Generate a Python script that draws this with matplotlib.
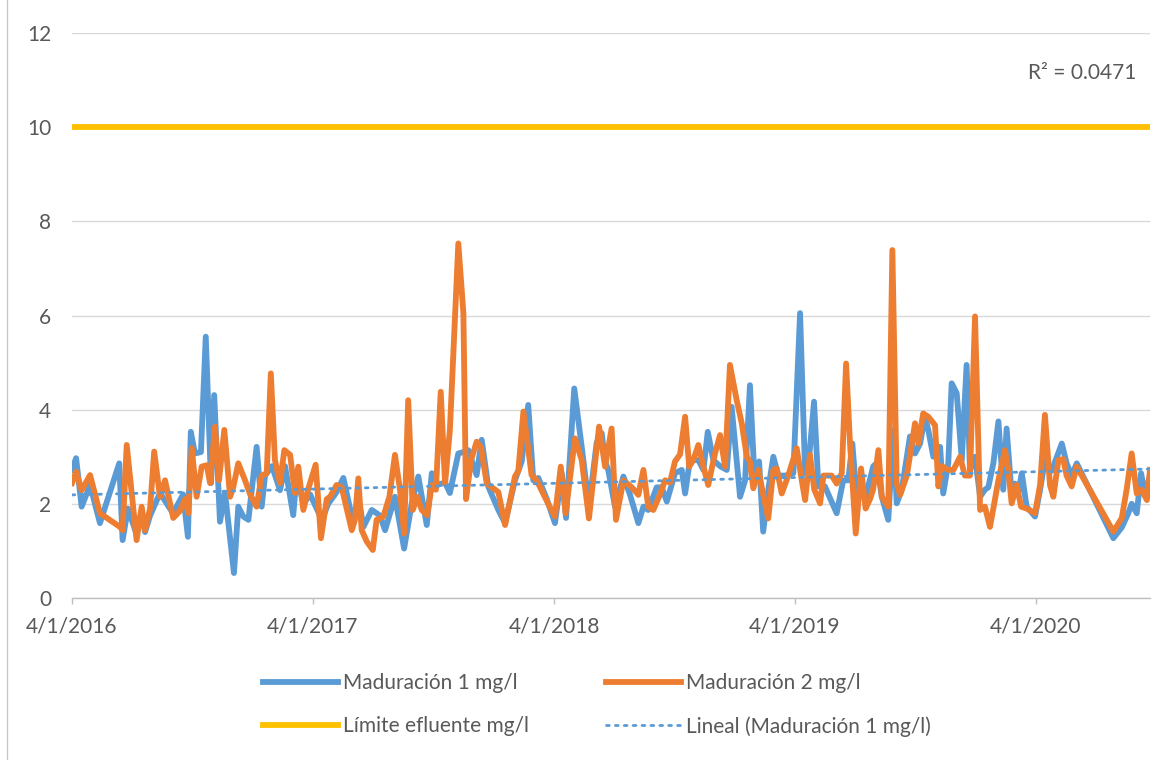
import numpy as np
import matplotlib
matplotlib.use("Agg")
import matplotlib.pyplot as plt
from matplotlib.patches import Rectangle

# ---- data (x = years since 4/1/2016) ----
blue_t = [0.000, 0.017, 0.040, 0.075, 0.116, 0.196, 0.210, 0.232, 0.268, 0.289, 0.303, 0.324,
          0.365, 0.419, 0.461, 0.481, 0.493, 0.510, 0.535, 0.555, 0.577, 0.590, 0.614, 0.635,
          0.672, 0.690, 0.711, 0.732, 0.766, 0.787, 0.801, 0.830, 0.863, 0.884, 0.918, 0.932,
          0.960, 0.988, 1.037, 1.063, 1.098, 1.126, 1.167, 1.188, 1.209, 1.244, 1.278, 1.299,
          1.340, 1.378, 1.410, 1.437, 1.472, 1.493, 1.513, 1.548, 1.568, 1.603, 1.624, 1.644,
          1.679, 1.700, 1.727, 1.769, 1.797, 1.838, 1.866, 1.893, 1.914, 1.935, 1.970, 2.004,
          2.032, 2.050, 2.084, 2.115, 2.145, 2.177, 2.198, 2.212, 2.225, 2.253, 2.288, 2.315,
          2.350, 2.371, 2.391, 2.426, 2.447, 2.468, 2.502, 2.530, 2.544, 2.564, 2.599, 2.620,
          2.638, 2.661, 2.689, 2.717, 2.737, 2.751, 2.772, 2.793, 2.813, 2.831, 2.851, 2.868,
          2.889, 2.910, 2.931, 2.959, 2.993, 3.021, 3.042, 3.058, 3.079, 3.097, 3.124, 3.173,
          3.200, 3.221, 3.238, 3.253, 3.270, 3.290, 3.325, 3.339, 3.360, 3.387, 3.408, 3.422,
          3.443, 3.477, 3.498, 3.519, 3.539, 3.553, 3.574, 3.602, 3.615, 3.636, 3.650, 3.671,
          3.692, 3.712, 3.726, 3.747, 3.768, 3.788, 3.802, 3.823, 3.844, 3.864, 3.878, 3.896,
          3.913, 3.925, 3.941, 3.961, 3.996, 4.017, 4.037, 4.065, 4.107, 4.127, 4.148, 4.169,
          4.321, 4.356, 4.383, 4.397, 4.418, 4.436, 4.452, 4.473]
blue_v = [2.72, 2.97, 1.94, 2.40, 1.59, 2.86, 1.23, 1.90, 1.35, 1.85, 1.40, 1.75,
          2.23, 1.80, 2.20, 1.30, 3.53, 3.07, 3.10, 5.55, 2.44, 4.31, 1.62, 2.23,
          0.53, 1.94, 1.73, 1.66, 3.21, 1.94, 2.60, 2.80, 2.29, 2.80, 1.76, 2.60,
          2.00, 2.20, 1.66, 2.00, 2.25, 2.55, 1.59, 2.15, 1.51, 1.87, 1.75, 1.44,
          2.15, 1.05, 2.02, 2.58, 1.55, 2.65, 2.40, 2.45, 2.23, 3.07, 3.10, 3.14,
          2.61, 3.36, 2.37, 1.87, 1.59, 2.50, 2.90, 4.10, 2.50, 2.55, 2.10, 1.59,
          2.65, 1.70, 4.45, 3.21, 1.94, 3.30, 3.50, 2.90, 2.72, 1.94, 2.58, 2.20,
          1.59, 1.94, 1.87, 2.35, 2.35, 2.05, 2.65, 2.72, 2.22, 2.93, 2.93, 2.72,
          3.53, 2.93, 2.80, 2.72, 4.06, 3.30, 2.15, 2.50, 4.52, 2.65, 2.90, 1.41,
          2.30, 3.00, 2.60, 2.60, 2.65, 6.05, 2.65, 2.95, 4.17, 2.37, 2.37, 1.80,
          2.50, 2.50, 3.28, 2.30, 2.50, 2.10, 2.80, 2.86, 2.15, 1.66, 3.57, 2.01,
          2.30, 3.43, 3.07, 3.28, 3.85, 3.57, 3.00, 3.21, 2.22, 2.86, 4.56, 4.35,
          2.93, 4.95, 2.72, 3.00, 2.15, 2.30, 2.35, 2.86, 3.75, 2.30, 3.60, 2.40,
          2.43, 2.20, 2.65, 1.94, 1.73, 2.30, 2.93, 2.70, 3.28, 2.86, 2.60, 2.86,
          1.27, 1.50, 1.80, 2.00, 1.80, 2.65, 2.20, 2.60]

orange_t = [0.000, 0.017, 0.040, 0.075, 0.116, 0.199, 0.210, 0.227, 0.268, 0.289, 0.303, 0.324,
            0.341, 0.365, 0.386, 0.420, 0.448, 0.469, 0.483, 0.497, 0.517, 0.538, 0.559, 0.573,
            0.593, 0.610, 0.632, 0.656, 0.669, 0.690, 0.718, 0.739, 0.766, 0.787, 0.808, 0.825,
            0.842, 0.863, 0.881, 0.905, 0.925, 0.939, 0.960, 0.981, 1.011, 1.033, 1.057, 1.071,
            1.098, 1.119, 1.161, 1.174, 1.188, 1.202, 1.223, 1.248, 1.264, 1.292, 1.317, 1.340,
            1.361, 1.378, 1.395, 1.414, 1.433, 1.451, 1.474, 1.493, 1.510, 1.530, 1.548, 1.568,
            1.603, 1.624, 1.635, 1.656, 1.679, 1.697, 1.721, 1.769, 1.797, 1.838, 1.852, 1.873,
            1.907, 1.928, 1.976, 2.004, 2.028, 2.048, 2.087, 2.115, 2.145, 2.187, 2.212, 2.239,
            2.257, 2.288, 2.323, 2.350, 2.371, 2.391, 2.412, 2.440, 2.461, 2.481, 2.502, 2.523,
            2.544, 2.561, 2.578, 2.599, 2.620, 2.640, 2.668, 2.689, 2.710, 2.730, 2.758, 2.779,
            2.800, 2.813, 2.827, 2.848, 2.868, 2.889, 2.910, 2.924, 2.945, 2.972, 3.007, 3.028,
            3.042, 3.062, 3.080, 3.104, 3.118, 3.152, 3.173, 3.194, 3.212, 3.228, 3.252, 3.274,
            3.293, 3.311, 3.324, 3.346, 3.360, 3.387, 3.404, 3.422, 3.436, 3.464, 3.498, 3.512,
            3.532, 3.553, 3.581, 3.595, 3.609, 3.636, 3.657, 3.685, 3.705, 3.726, 3.747, 3.768,
            3.788, 3.809, 3.844, 3.871, 3.885, 3.899, 3.920, 3.938, 3.961, 3.996, 4.017, 4.037,
            4.058, 4.072, 4.093, 4.113, 4.127, 4.148, 4.169, 4.321, 4.356, 4.376, 4.397, 4.418,
            4.439, 4.460, 4.473]
orange_v = [2.44, 2.68, 2.29, 2.61, 1.80, 1.51, 1.44, 3.25, 1.23, 1.94, 1.44, 1.90,
            3.11, 2.15, 2.50, 1.70, 1.85, 2.10, 1.80, 3.18, 2.15, 2.79, 2.82, 2.44,
            3.64, 2.50, 3.57, 2.15, 2.35, 2.86, 2.50, 2.20, 1.94, 2.60, 2.65, 4.77,
            2.93, 2.44, 3.14, 3.04, 2.23, 2.79, 1.87, 2.33, 2.83, 1.27, 2.10, 2.15,
            2.40, 2.35, 1.44, 1.66, 2.54, 1.44, 1.20, 1.02, 1.66, 1.73, 2.15, 3.04,
            2.30, 1.37, 4.20, 1.87, 2.15, 1.87, 1.76, 2.40, 2.30, 4.38, 2.43, 3.57,
            7.53, 6.05, 2.10, 2.93, 3.32, 3.20, 2.43, 2.25, 1.55, 2.58, 2.70, 3.96,
            2.61, 2.50, 2.00, 1.73, 2.79, 1.80, 3.39, 2.93, 1.69, 3.64, 2.79, 3.60,
            1.66, 2.50, 2.35, 2.19, 2.72, 1.94, 1.87, 2.20, 2.50, 2.45, 2.90, 3.05,
            3.85, 2.79, 2.93, 3.25, 2.79, 2.40, 3.07, 3.46, 2.79, 4.95, 4.20, 3.71,
            3.00, 2.90, 2.33, 2.72, 2.20, 1.69, 2.72, 2.75, 2.22, 2.60, 3.18, 2.50,
            2.08, 3.04, 2.30, 2.01, 2.60, 2.60, 2.43, 2.65, 4.98, 3.30, 1.37, 2.75,
            1.90, 2.10, 2.30, 3.14, 2.15, 1.94, 7.39, 2.43, 2.19, 2.60, 3.71, 3.28,
            3.92, 3.85, 3.67, 2.37, 2.80, 2.72, 2.72, 3.00, 2.60, 2.60, 5.98, 1.87,
            1.94, 1.51, 2.50, 3.14, 2.72, 2.01, 2.40, 1.94, 1.90, 1.80, 2.40, 3.89,
            2.40, 2.15, 2.93, 2.95, 2.60, 2.37, 2.79, 1.41, 1.70, 2.30, 3.07, 2.22,
            2.30, 2.08, 2.72]

limit_value = 10
trend_values = [2.19, 2.74]          # linear trend read at start / end of axis
tick_years = [0, 1, 2, 3, 4]
tick_labels = ["4/1/2016", "4/1/2017", "4/1/2018", "4/1/2019", "4/1/2020"]
y_ticks = [0, 2, 4, 6, 8, 10, 12]
labels = ["Maduración 1 mg/l", "Maduración 2 mg/l", "Límite efluente mg/l",
          "Lineal (Maduración 1 mg/l)"]
r2_text = "R² = 0.0471"

BLUE = "#5B9BD5"
ORANGE = "#ED7D31"
YELLOW = "#FFC000"
TXT = "#595959"
GRID = "#D9D9D9"
FS = 15

plt.rcParams['font.family'] = ['Lato', 'DejaVu Sans']

fig = plt.figure(figsize=(11.76, 7.6), dpi=100)
ax = fig.add_axes([72 / 1176, 1 - 598 / 760, (1150 - 72) / 1176, (598 - 33) / 760])

bt = np.array(blue_t)
bv = np.array(blue_v)
ot = np.array(orange_t)
ov = np.array(orange_v)

LW = 4.2
l1, = ax.plot(bt, bv, color=BLUE, lw=LW, solid_joinstyle='round', zorder=3)
l2, = ax.plot(ot, ov, color=ORANGE, lw=LW, solid_joinstyle='round', zorder=4)
xmin, xmax = 0, max(bt.max(), ot.max())
l3, = ax.plot([xmin, xmax], [limit_value, limit_value], color=YELLOW, lw=LW, zorder=3)
l4, = ax.plot([xmin, xmax], trend_values, color=BLUE, lw=2.0, ls=(0, (1, 2.2)),
              dash_capstyle='round', zorder=5)

ax.set_xlim(xmin, xmax)
ax.set_ylim(0, 12)
ax.set_yticks(y_ticks)
ax.set_xticks(tick_years)
ax.set_xticklabels(tick_labels)
ax.tick_params(axis='y', length=0, pad=15, labelsize=FS, labelcolor=TXT)
ax.tick_params(axis='x', length=4, width=1, color="#BFBFBF", pad=9, labelsize=FS,
               labelcolor=TXT, direction='out')
ax.grid(axis='y', color=GRID, lw=1)
ax.set_axisbelow(True)
for s in ['top', 'right', 'left']:
    ax.spines[s].set_visible(False)
ax.spines['bottom'].set_color("#BFBFBF")
ax.spines['bottom'].set_linewidth(1)

fig.text(1136 / 1176, 1 - 73 / 760, r2_text, ha='right', va='center',
         fontsize=FS, color=TXT)

# column-major fill -> rows: (Mad1, Mad2), (Límite, Lineal)
leg = fig.legend([l1, l3, l2, l4], [labels[0], labels[2], labels[1], labels[3]],
                 loc='center', ncol=2,
                 bbox_to_anchor=(597 / 1176, 1 - 705 / 760), frameon=False,
                 fontsize=FS, handlelength=3.6, handletextpad=0.25,
                 columnspacing=3.7, labelspacing=1.1)
for t in leg.get_texts():
    t.set_color(TXT)

fig.patches.append(Rectangle((7 / 1176, -0.01), 1.02, 1.02,
                             transform=fig.transFigure, fill=False,
                             edgecolor="#C8C8C8", lw=1))

fig.savefig("out.png", dpi=100)
